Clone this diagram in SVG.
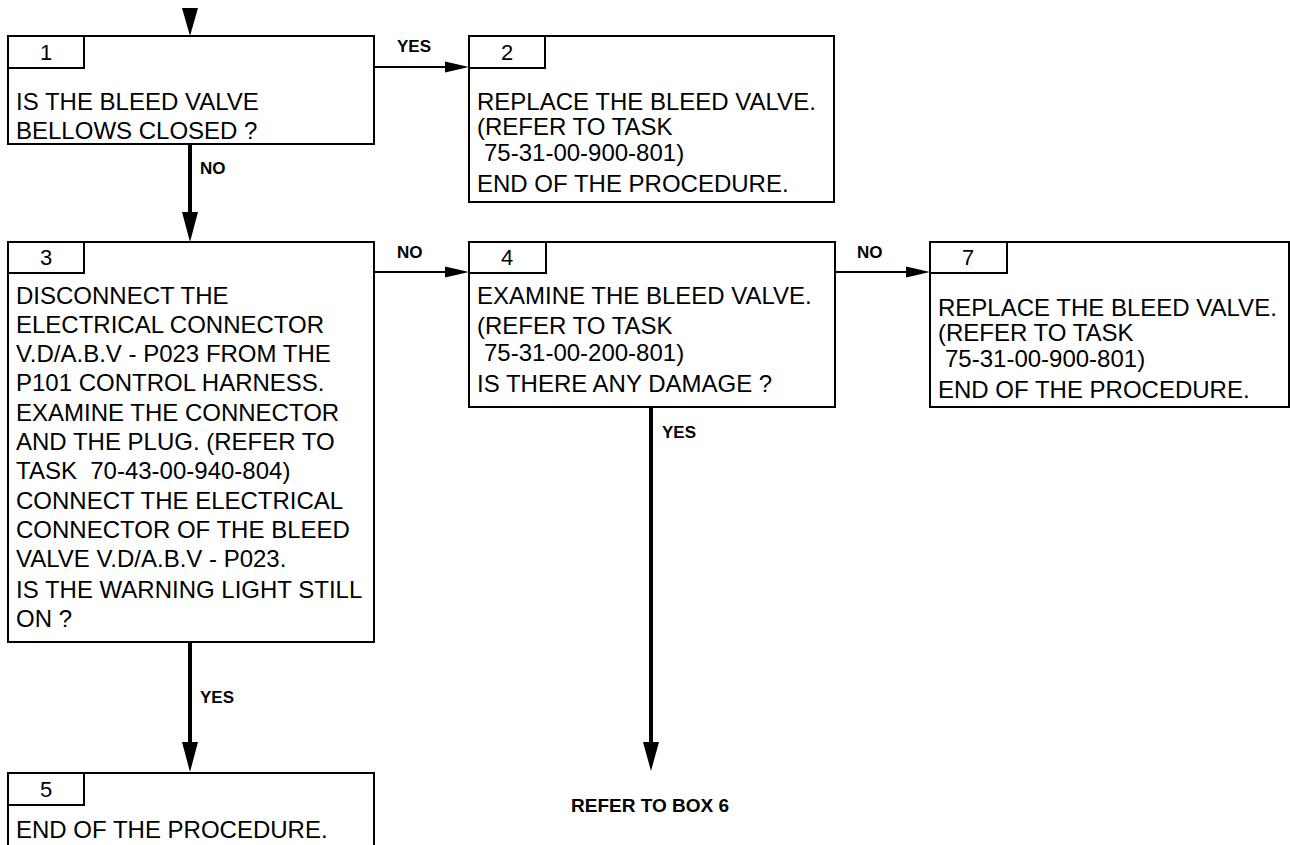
<svg xmlns="http://www.w3.org/2000/svg" width="1290" height="845" viewBox="0 0 1290 845">
  <style>
    .box { fill: #fff; stroke: #000; stroke-width: 2; }
    .tab { fill: none; stroke: #000; stroke-width: 2; }
    .t { font-family: "Liberation Sans", Arial, sans-serif; font-size: 24px; fill: #000; white-space: pre; }
    .n { font-family: "Liberation Sans", Arial, sans-serif; font-size: 22px; fill: #000; text-anchor: middle; }
    .lbl { font-family: "Liberation Sans", Arial, sans-serif; font-size: 17px; font-weight: bold; fill: #000; }
    .v { stroke: #000; stroke-width: 4; fill: none; }
    .h { stroke: #000; stroke-width: 2; fill: none; }
    .ah { fill: #000; stroke: none; }
  </style>

  <g id="connectors">
    <polygon class="ah" points="182,8 198,8 190,36"/>
    <line class="v" x1="190" y1="144" x2="190" y2="214"/>
    <polygon class="ah" points="182,212 198,212 190,242"/>
    <line class="h" x1="374" y1="67" x2="448" y2="67"/>
    <polygon class="ah" points="445,61.5 445,72.5 469,67"/>
    <line class="h" x1="374" y1="272" x2="448" y2="272"/>
    <polygon class="ah" points="445,266.5 445,277.5 469,272"/>
    <line class="h" x1="835" y1="272" x2="909" y2="272"/>
    <polygon class="ah" points="906,266.5 906,277.5 930,272"/>
    <line class="v" x1="190" y1="642" x2="190" y2="744"/>
    <polygon class="ah" points="182,742 198,742 190,772"/>
    <line class="v" x1="651" y1="407" x2="651" y2="744"/>
    <polygon class="ah" points="643,742 659,742 651,771"/>
    <text class="lbl" x="397" y="52">YES</text>
    <text class="lbl" x="200" y="174">NO</text>
    <text class="lbl" x="397" y="258">NO</text>
    <text class="lbl" x="857" y="258">NO</text>
    <text class="lbl" x="662" y="438">YES</text>
    <text class="lbl" x="200" y="703">YES</text>
    <text class="lbl" x="650" y="812" text-anchor="middle" style="font-size:19px">REFER TO BOX 6</text>
  </g>

  <g id="node1">
    <rect class="box" x="8" y="36" width="366" height="108"/>
    <rect class="tab" x="8" y="36" width="76" height="32"/>
    <text class="n" x="46" y="60">1</text>
    <text class="t" x="16" y="110">IS THE BLEED VALVE</text>
    <text class="t" x="16" y="139">BELLOWS CLOSED ?</text>
  </g>

  <g id="node2">
    <rect class="box" x="469" y="36" width="365" height="166"/>
    <rect class="tab" x="469" y="36" width="76" height="32"/>
    <text class="n" x="507" y="60">2</text>
    <text class="t" x="477" y="110">REPLACE THE BLEED VALVE.</text>
    <text class="t" x="477" y="135">(REFER TO TASK</text>
    <text class="t" x="484" y="161">75-31-00-900-801)</text>
    <text class="t" x="477" y="192">END OF THE PROCEDURE.</text>
  </g>

  <g id="node3">
    <rect class="box" x="8" y="242" width="366" height="400"/>
    <rect class="tab" x="8" y="242" width="76" height="31"/>
    <text class="n" x="46" y="265">3</text>
    <text class="t" x="16" y="304">DISCONNECT THE</text>
    <text class="t" x="16" y="333">ELECTRICAL CONNECTOR</text>
    <text class="t" x="16" y="362">V.D/A.B.V - P023 FROM THE</text>
    <text class="t" x="16" y="391">P101 CONTROL HARNESS.</text>
    <text class="t" x="16" y="421">EXAMINE THE CONNECTOR</text>
    <text class="t" x="16" y="450">AND THE PLUG. (REFER TO</text>
    <text class="t" x="16" y="479" xml:space="preserve">TASK  70-43-00-940-804)</text>
    <text class="t" x="16" y="509">CONNECT THE ELECTRICAL</text>
    <text class="t" x="16" y="538">CONNECTOR OF THE BLEED</text>
    <text class="t" x="16" y="567">VALVE V.D/A.B.V - P023.</text>
    <text class="t" x="16" y="598">IS THE WARNING LIGHT STILL</text>
    <text class="t" x="16" y="627">ON ?</text>
  </g>

  <g id="node4">
    <rect class="box" x="469" y="242" width="366" height="165"/>
    <rect class="tab" x="469" y="242" width="77" height="31"/>
    <text class="n" x="507" y="265">4</text>
    <text class="t" x="477" y="304">EXAMINE THE BLEED VALVE.</text>
    <text class="t" x="477" y="334">(REFER TO TASK</text>
    <text class="t" x="484" y="361">75-31-00-200-801)</text>
    <text class="t" x="477" y="392">IS THERE ANY DAMAGE ?</text>
  </g>

  <g id="node7">
    <rect class="box" x="930" y="242" width="359" height="165"/>
    <rect class="tab" x="930" y="242" width="77" height="31"/>
    <text class="n" x="968" y="265">7</text>
    <text class="t" x="938" y="316">REPLACE THE BLEED VALVE.</text>
    <text class="t" x="938" y="341">(REFER TO TASK</text>
    <text class="t" x="945" y="367">75-31-00-900-801)</text>
    <text class="t" x="938" y="398">END OF THE PROCEDURE.</text>
  </g>

  <g id="node5">
    <rect class="box" x="8" y="773" width="366" height="80"/>
    <rect class="tab" x="8" y="773" width="76" height="32"/>
    <text class="n" x="46" y="797">5</text>
    <text class="t" x="16" y="838">END OF THE PROCEDURE.</text>
  </g>
</svg>
